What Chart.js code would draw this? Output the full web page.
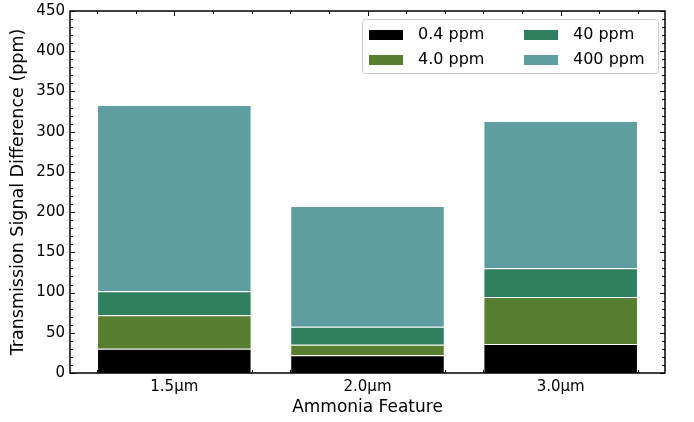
<!DOCTYPE html>
<html>
<head>
<meta charset="utf-8">
<script src="https://cdn.jsdelivr.net/npm/chart.js@4/dist/chart.umd.min.js"></script>
<style>
  html, body { margin: 0; padding: 0; background: #fff; }
  #wrap { width: 694px; height: 422px; }
</style>
</head>
<body>
<div id="wrap"><canvas id="chart"></canvas></div>
<script>
// Data
const features = ['1.5\u03bcm', '2.0\u03bcm', '3.0\u03bcm'];
const featurePos = [0, 1, 2];
const seriesLabels = ['0.4 ppm', '4.0 ppm', '40 ppm', '400 ppm'];
const ppm04 = [30, 22, 36];
const ppm4 = [41.7, 13.2, 58.6];
const ppm40 = [30, 22.2, 35.6];
const ppm400 = [231.3, 150.2, 183.2];
const yTicks = [0, 50, 100, 150, 200, 250, 300, 350, 400, 450];

const colors = ['#000000', '#587f2f', '#2e805e', '#5f9ea0'];
const FONT = "'DejaVu Sans', sans-serif";

Chart.defaults.color = '#000';
Chart.defaults.font.family = FONT;

function toPoints(vals) {
  return vals.map((v, i) => ({ x: featurePos[i], y: v }));
}

const datasets = [ppm04, ppm4, ppm40, ppm400].map((vals, i) => ({
  label: seriesLabels[i],
  data: toPoints(vals),
  backgroundColor: colors[i],
  borderColor: '#ffffff',
  borderWidth: 1,
  barPercentage: 1,
  categoryPercentage: 0.8
}));

// Frame + inward ticks like matplotlib
const framePlugin = {
  id: 'frame',
  afterDatasetsDraw(chart) {
    const { ctx, chartArea: a, scales: { x, y } } = chart;
    ctx.save();
    ctx.strokeStyle = '#000';
    ctx.lineWidth = 1;
    ctx.beginPath();
    // y ticks, left and right
    for (let v = 0; v <= 450; v += 10) {
      const py = Math.round(y.getPixelForValue(v)) + 0.5;
      const len = v % 50 === 0 ? 5 : 3;
      ctx.moveTo(a.left, py); ctx.lineTo(a.left + len, py);
      ctx.moveTo(a.right, py); ctx.lineTo(a.right - len, py);
    }
    // x ticks, bottom and top
    for (let k = -2; k <= 12; k++) {
      const v = k / 5;
      const px = Math.round(x.getPixelForValue(v)) + 0.5;
      const len = k % 5 === 0 ? 5 : 3;
      ctx.moveTo(px, a.bottom); ctx.lineTo(px, a.bottom - len);
      ctx.moveTo(px, a.top); ctx.lineTo(px, a.top + len);
    }
    ctx.stroke();
    ctx.lineWidth = 1.5;
    ctx.strokeRect(a.left, a.top, a.right - a.left, a.bottom - a.top);
    ctx.restore();
  }
};

// Two-column legend in the upper right corner
const legendPlugin = {
  id: 'boxLegend',
  afterDraw(chart) {
    const { ctx } = chart;
    const ds = chart.data.datasets;
    const bx = 362, by = 19, bw = 296, bh = 54;
    ctx.save();
    ctx.fillStyle = 'rgba(255,255,255,0.8)';
    ctx.strokeStyle = '#cccccc';
    ctx.lineWidth = 1;
    ctx.beginPath();
    ctx.roundRect(bx + 0.5, by + 0.5, bw, bh, 3);
    ctx.fill();
    ctx.stroke();
    ctx.font = '16px ' + FONT;
    ctx.textBaseline = 'middle';
    ds.forEach((d, i) => {
      const col = Math.floor(i / 2), row = i % 2;
      const px = bx + 7 + col * 155;
      const py = by + 16 + row * 25;
      ctx.fillStyle = d.backgroundColor;
      ctx.fillRect(px, py - 5, 34, 10);
      ctx.fillStyle = '#000';
      ctx.fillText(d.label, px + 49, py);
    });
    ctx.restore();
  }
};

new Chart(document.getElementById('chart'), {
  type: 'bar',
  data: { datasets },
  plugins: [framePlugin, legendPlugin],
  options: {
    responsive: true,
    maintainAspectRatio: false,
    animation: false,
    layout: { padding: { top: 11, right: 29, left: 0, bottom: 0 } },
    plugins: { legend: { display: false }, tooltip: { enabled: false } },
    scales: {
      x: {
        type: 'linear',
        offset: false,
        stacked: true,
        min: -0.54,
        max: 2.54,
        grid: { display: false, drawTicks: false, offset: false },
        border: { display: false },
        afterBuildTicks: (s) => { s.ticks = featurePos.map(v => ({ value: v })); },
        afterFit: (s) => { s.height = 49; s.paddingLeft = 0; s.paddingRight = 0; },
        ticks: {
          padding: 5,
          maxRotation: 0,
          font: { size: 15 },
          callback: (v) => features[featurePos.indexOf(v)]
        },
        title: {
          display: true,
          text: 'Ammonia Feature',
          font: { size: 17 },
          padding: { top: 0, bottom: 4 }
        }
      },
      y: {
        stacked: true,
        min: 0,
        max: 450,
        grid: { display: false, drawTicks: false },
        border: { display: false },
        afterBuildTicks: (s) => { s.ticks = yTicks.map(v => ({ value: v })); },
        afterFit: (s) => { s.width = 70; s.paddingTop = 0; s.paddingBottom = 0; },
        ticks: { padding: 5, font: { size: 15 } },
        title: {
          display: true,
          text: 'Transmission Signal Difference (ppm)',
          font: { size: 17.5 },
          padding: { top: 8, bottom: 0 }
        }
      }
    }
  }
});
</script>
</body>
</html>
